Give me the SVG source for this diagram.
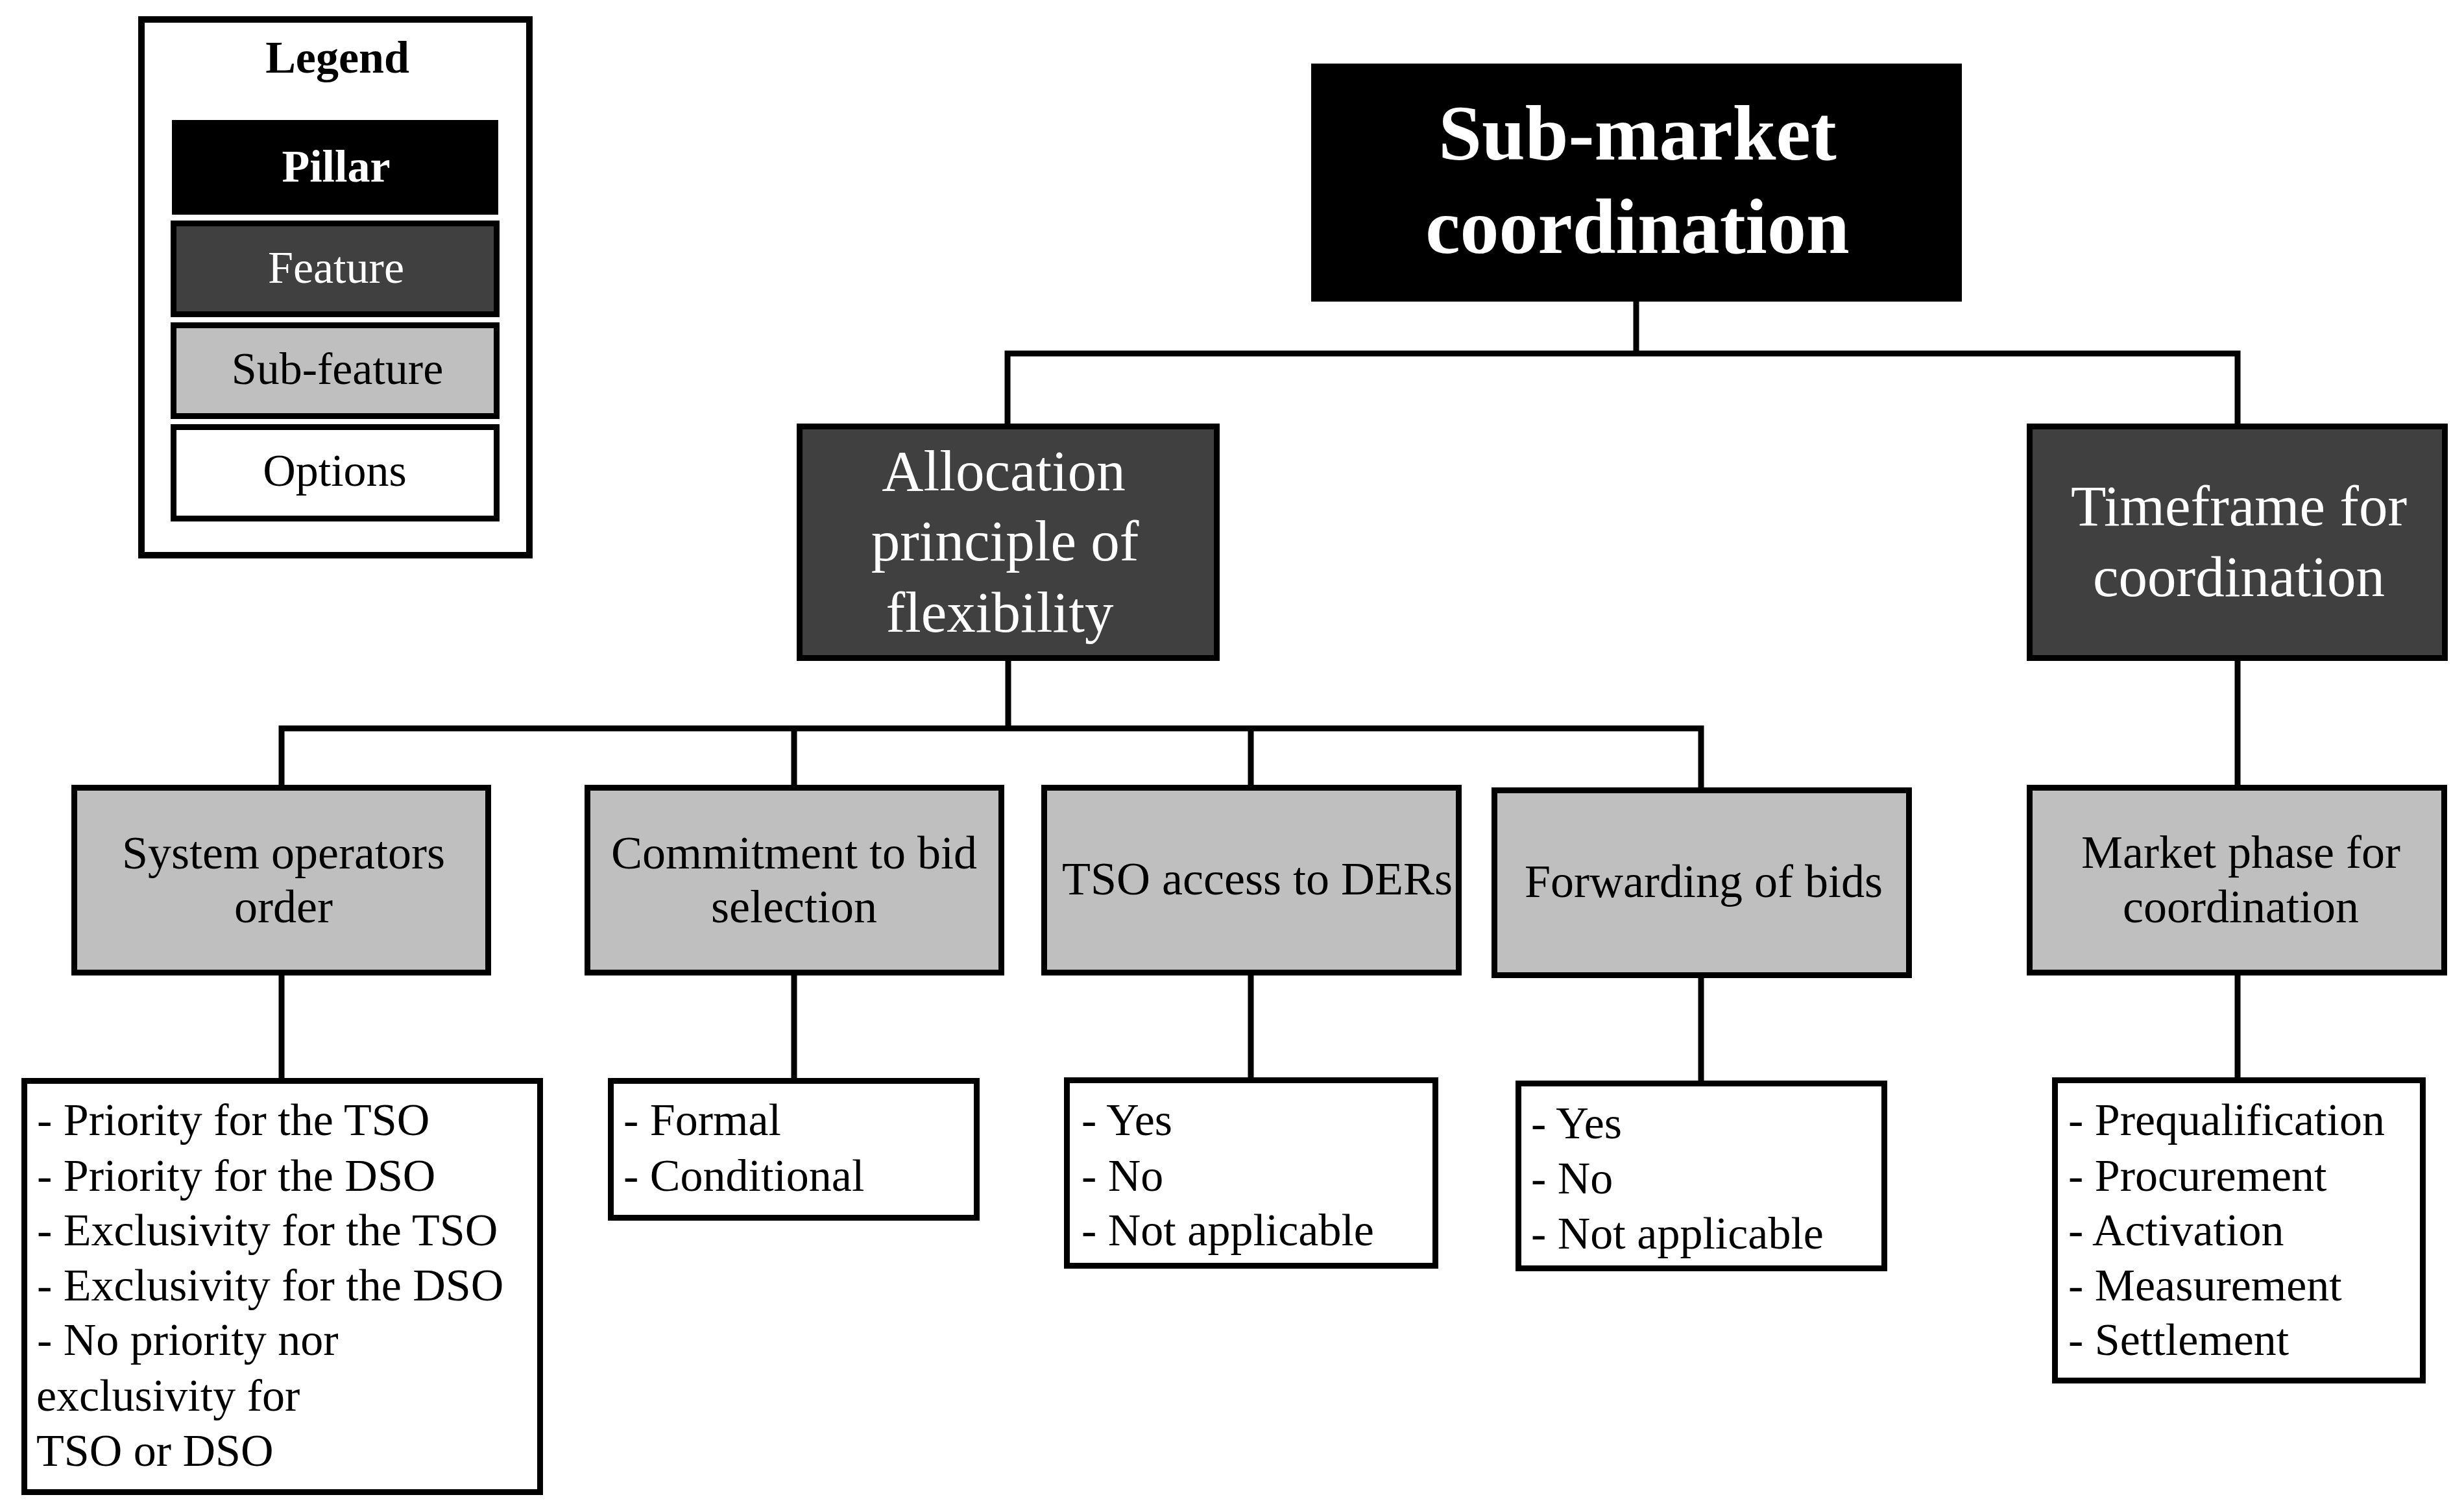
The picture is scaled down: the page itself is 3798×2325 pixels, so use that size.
<svg xmlns="http://www.w3.org/2000/svg" width="3798" height="2325" viewBox="0 0 3798 2325">
<style>
.t{font-family:"Liberation Serif","Times New Roman",serif;}
.b{stroke:#000;stroke-width:9;}
.pillar{fill:#000;}
.feat{fill:#404040;}
.sub{fill:#bfbfbf;}
.opt{fill:#fff;}
.w{fill:#fff;}
.k{fill:#000;}
.c{stroke:#000;stroke-width:9;fill:none;stroke-linecap:square;}
</style>
<rect width="3798" height="2325" fill="#fff"/>
<g id="legend">
<rect x="218" y="30" width="598" height="826" fill="#fff" stroke="#000" stroke-width="10"/>
<text class="t k" x="520" y="112" font-size="70" font-weight="bold" text-anchor="middle">Legend</text>
<rect x="265" y="185" width="503" height="146" class="pillar"/>
<text class="t w" x="518" y="280" font-size="70" font-weight="bold" text-anchor="middle">Pillar</text>
<rect x="267.5" y="344.5" width="498" height="140" class="feat b"/>
<text class="t w" x="518" y="436" font-size="70" text-anchor="middle">Feature</text>
<rect x="267.5" y="501.5" width="498" height="140" class="sub b"/>
<text class="t k" x="520" y="592" font-size="70" text-anchor="middle">Sub-feature</text>
<rect x="267.5" y="658.5" width="498" height="141" class="opt b"/>
<text class="t k" x="516" y="749" font-size="70" text-anchor="middle">Options</text>
</g>
<g id="connectors">
<path class="c" d="M2522 465V545M1553 545H3449M1553 545V653M3449 545V653"/>
<path class="c" d="M1554 1019V1123M434 1123H2622M434 1123V1210M1224 1123V1210M1928 1123V1210M2622 1123V1214"/>
<path class="c" d="M3449 1019V1210"/>
<path class="c" d="M434 1504V1662M1224 1504V1662M1928 1504V1661M2622 1508V1666M3449 1504V1661"/>
</g>
<g id="pillar-submarket">
<rect x="2021" y="98" width="1003" height="367" class="pillar"/>
<text class="t w" font-size="120" font-weight="bold" text-anchor="middle"><tspan x="2524" y="246">Sub-market</tspan><tspan x="2524" y="390">coordination</tspan></text>
</g>
<g id="feature-allocation">
<rect x="1232.5" y="657.5" width="643" height="357" class="feat b"/>
<text class="t w" font-size="89" text-anchor="middle"><tspan x="1547" y="756">Allocation</tspan><tspan x="1549" y="864">principle of</tspan><tspan x="1541" y="974">flexibility</tspan></text>
</g>
<g id="feature-timeframe">
<rect x="3128.5" y="657.5" width="640" height="357" class="feat b"/>
<text class="t w" font-size="89" text-anchor="middle"><tspan x="3451" y="810">Timeframe for</tspan><tspan x="3451" y="919">coordination</tspan></text>
</g>
<g id="sub-system-operators">
<rect x="114.5" y="1214.5" width="638" height="285" class="sub b"/>
<text class="t k" font-size="72" text-anchor="middle"><tspan x="437" y="1339">System operators</tspan><tspan x="437" y="1422">order</tspan></text>
</g>
<g id="sub-commitment">
<rect x="905.5" y="1214.5" width="638" height="285" class="sub b"/>
<text class="t k" font-size="72" text-anchor="middle"><tspan x="1224" y="1339">Commitment to bid</tspan><tspan x="1224" y="1422">selection</tspan></text>
</g>
<g id="sub-tso-access">
<rect x="1609.5" y="1214.5" width="639" height="285" class="sub b"/>
<text class="t k" x="1938" y="1379" font-size="72" text-anchor="middle">TSO access to DERs</text>
</g>
<g id="sub-forwarding">
<rect x="2303.5" y="1218.5" width="639" height="285" class="sub b"/>
<text class="t k" x="2626" y="1383" font-size="72" text-anchor="middle">Forwarding of bids</text>
</g>
<g id="sub-market-phase">
<rect x="3128.5" y="1214.5" width="639" height="285" class="sub b"/>
<text class="t k" font-size="72" text-anchor="middle"><tspan x="3454" y="1338">Market phase for</tspan><tspan x="3454" y="1422">coordination</tspan></text>
</g>
<g id="opt-system-operators">
<rect x="37.5" y="1666.5" width="795" height="634" class="opt b"/>
<text class="t k" font-size="70"><tspan x="57" y="1750">- Priority for the TSO</tspan><tspan x="57" y="1836">- Priority for the DSO</tspan><tspan x="57" y="1920">- Exclusivity for the TSO</tspan><tspan x="57" y="2005">- Exclusivity for the DSO</tspan><tspan x="57" y="2089">- No priority nor</tspan><tspan x="56" y="2175">exclusivity for</tspan><tspan x="56" y="2260">TSO or DSO</tspan></text>
</g>
<g id="opt-commitment">
<rect x="941.5" y="1666.5" width="564" height="211" class="opt b"/>
<text class="t k" font-size="70"><tspan x="961" y="1750">- Formal</tspan><tspan x="961" y="1836">- Conditional</tspan></text>
</g>
<g id="opt-tso-access">
<rect x="1644.5" y="1665.5" width="568" height="286" class="opt b"/>
<text class="t k" font-size="70"><tspan x="1667" y="1750">- Yes</tspan><tspan x="1667" y="1836">- No</tspan><tspan x="1667" y="1920">- Not applicable</tspan></text>
</g>
<g id="opt-forwarding">
<rect x="2340.5" y="1670.5" width="564" height="285" class="opt b"/>
<text class="t k" font-size="70"><tspan x="2360" y="1755">- Yes</tspan><tspan x="2360" y="1840">- No</tspan><tspan x="2360" y="1925">- Not applicable</tspan></text>
</g>
<g id="opt-market-phase">
<rect x="3167.5" y="1665.5" width="567" height="463" class="opt b"/>
<text class="t k" font-size="70"><tspan x="3188" y="1750">- Prequalification</tspan><tspan x="3188" y="1836">- Procurement</tspan><tspan x="3188" y="1920">- Activation</tspan><tspan x="3188" y="2005">- Measurement</tspan><tspan x="3188" y="2089">- Settlement</tspan></text>
</g>
</svg>
